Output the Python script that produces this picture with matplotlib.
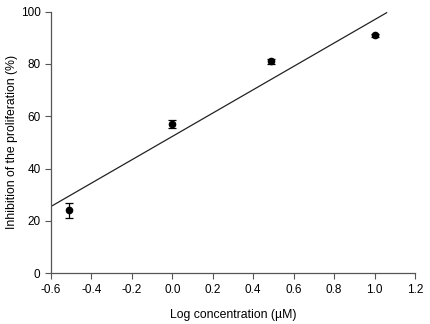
import matplotlib
matplotlib.use('Agg')
import matplotlib.pyplot as plt

plt.rcParams['font.family'] = ['Liberation Sans', 'DejaVu Sans']

log_conc = [-0.51, 0.0, 0.49, 1.0]
inhibition = [24, 57, 81, 91]
errors = [3.0, 1.5, 1.0, 0.5]

# regression line end points as drawn
fit_x = [-0.6, 1.06]
fit_y = [25.5, 99.6]

fig = plt.figure(figsize=(4.3, 3.24), dpi=100)
ax = fig.add_axes([0.1186, 0.157, 0.8464, 0.807])

ax.plot(fit_x, fit_y, color='#222222', lw=0.9)
ax.errorbar(log_conc, inhibition, yerr=errors, fmt='o', color='black',
            ms=4.5, capsize=3, elinewidth=0.9, capthick=0.9)

ax.set_xlim(-0.6, 1.2)
ax.set_ylim(0, 100)
ax.set_xticks([-0.6, -0.4, -0.2, 0.0, 0.2, 0.4, 0.6, 0.8, 1.0, 1.2])
ax.set_yticks([0, 20, 40, 60, 80, 100])
ax.set_xticklabels(['-0.6', '-0.4', '-0.2', '0.0', '0.2', '0.4', '0.6', '0.8', '1.0', '1.2'])

for s in ['top', 'right']:
    ax.spines[s].set_visible(False)
for s in ['left', 'bottom']:
    ax.spines[s].set_color('#555555')
    ax.spines[s].set_linewidth(0.9)
ax.tick_params(direction='out', length=4, width=0.8, color='#555555', labelsize=8.5)

ax.set_xlabel('Log concentration (\u00b5M)', fontsize=8.8, labelpad=10)
ax.set_ylabel('Inhibition of the proliferation (%)', fontsize=8.8)
ax.yaxis.set_label_coords(-0.09, 0.5)

fig.savefig('out.png', dpi=100)
